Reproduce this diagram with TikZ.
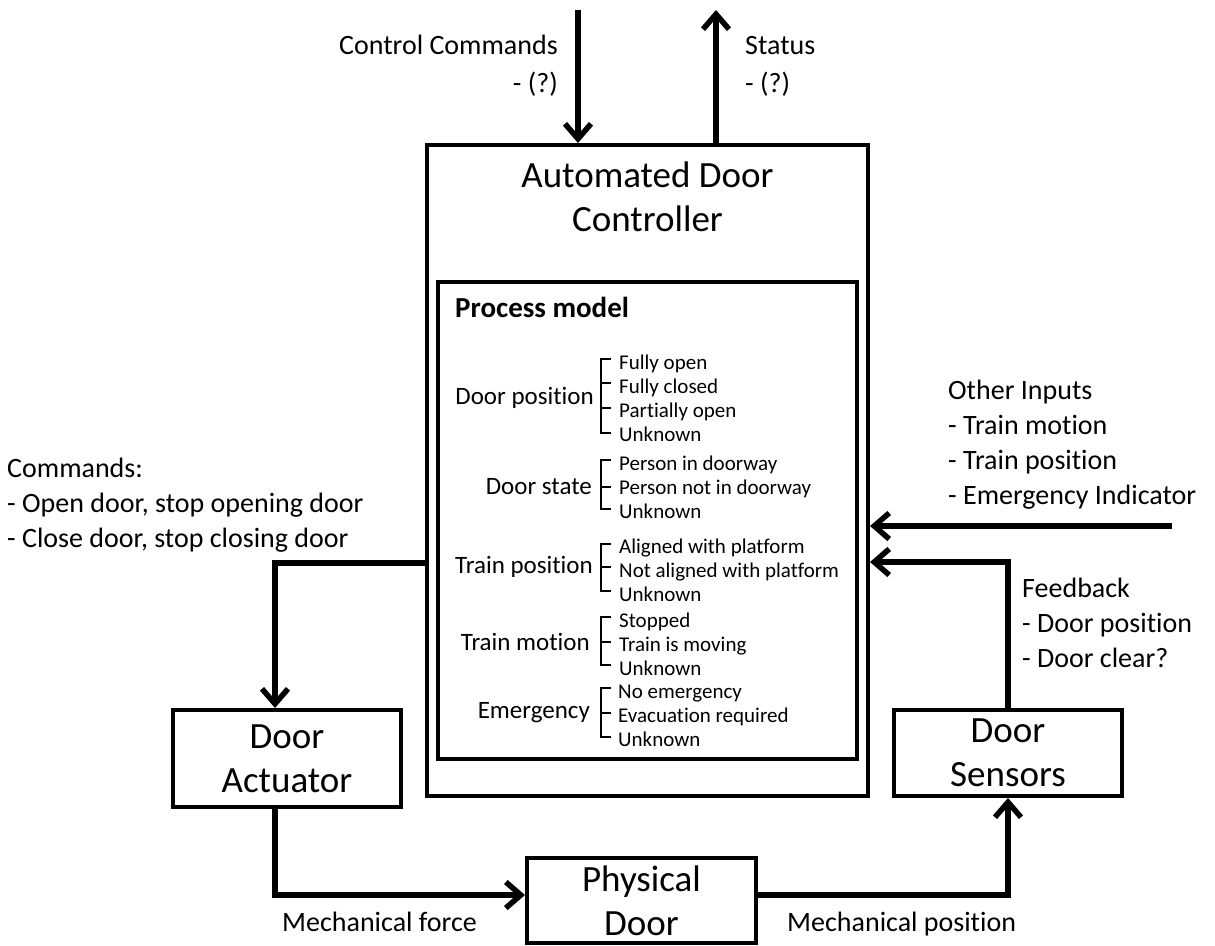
\documentclass[tikz,border=0pt]{standalone}
\usepackage{fontspec}
\setmainfont{Carlito}[Ligatures={NoCommon}]
\usetikzlibrary{arrows.meta}
\begin{document}
\begin{tikzpicture}[x=1pt,y=-1pt,
  box/.style={draw, line width=4pt, rectangle, inner sep=0pt},
  arr/.style={line width=5.5pt, -{Straight Barb[length=15pt,width=26pt]}},
  lbl/.style={font=\fontsize{28}{35}\selectfont, inner sep=0pt, align=left},
  toplbl/.style={font=\fontsize{28}{38}\selectfont, inner sep=0pt},
  big/.style={font=\fontsize{37}{44}\selectfont, align=center},
  pmlabel/.style={font=\fontsize{25}{30}\selectfont, inner sep=0pt, anchor=east},
  pmitems/.style={font=\fontsize{21}{24}\selectfont, inner sep=0pt, anchor=west, align=left},
  brk/.style={line width=1.6pt}]

\fill[white] (0,0) rectangle (1215,945);
\useasboundingbox (0,0) rectangle (1215,945);

% controller
\node[box, minimum width=441pt, minimum height=651pt] (ctrl) at (647.5,470.5) {};
\node[big] (title) at (647.5,197) {Automated Door\\Controller};
\node[box, minimum width=419pt, minimum height=477pt] (pm) at (647.5,520.5) {};
\node[font=\bfseries\fontsize{29}{35}\selectfont, anchor=west, inner sep=0pt] (pmt) at (455,307) {Process model};

% process model groups
\node[pmlabel] (g1) at (594,398) {Door position};
\node[pmitems] (i1) at (619,398.5) {Fully open\\Fully closed\\Partially open\\Unknown};
\draw[brk] (611,359) -- (601,359) -- (601,433) -- (611,433) (601,383) -- (611,383) (601,408) -- (611,408);

\node[pmlabel] (g2) at (592,487) {Door state};
\node[pmitems] (i2) at (619,487.5) {Person in doorway\\Person not in doorway\\Unknown};
\draw[brk] (611,460) -- (601,460) -- (601,509) -- (611,509) (601,487) -- (611,487);

\node[pmlabel] (g3) at (593,567) {Train position};
\node[pmitems] (i3) at (619,570) {Aligned with platform\\Not aligned with platform\\Unknown};
\draw[brk] (611,544) -- (601,544) -- (601,591) -- (611,591) (601,567) -- (611,567);

\node[pmlabel] (g4) at (590,642) {Train motion};
\node[pmitems] (i4) at (619,644) {Stopped\\Train is moving\\Unknown};
\draw[brk] (611,617) -- (601,617) -- (601,665) -- (611,665) (601,642) -- (611,642);

\node[pmlabel] (g5) at (590,713) {Emergency};
\node[pmitems] (i5) at (618,716) {No emergency\\Evacuation required\\Unknown};
\draw[brk] (611,688) -- (601,688) -- (601,737) -- (611,737) (601,713) -- (611,713);

% other boxes
\node[box, big, minimum width=228pt, minimum height=97pt] (act) at (287,758.5) {Door\\Actuator};
\node[box, big, minimum width=228pt, minimum height=86pt] (sens) at (1008,753) {Door\\Sensors};
\node[box, big, minimum width=229pt, minimum height=85pt] (phys) at (641.5,900.5) {Physical\\Door};

% coordinates
\coordinate (cin) at (578,10);
\coordinate (cout) at (716,10);
\coordinate (cmdturn) at (275,563);
\coordinate (forceturn) at (275,895);
\coordinate (posturn) at (1008,895);
\coordinate (fbturn) at (1008,562);
\coordinate (oin) at (1172,526);

% connectors
\draw[arr] (cin) -- (cin |- ctrl.north);
\draw[arr] (cout |- ctrl.north) -- (cout);
\draw[arr] (ctrl.west |- cmdturn) -- (cmdturn) -- (cmdturn |- act.north);
\draw[arr] (act.south -| forceturn) -- (forceturn) -- (forceturn -| phys.west);
\draw[arr] (phys.east |- posturn) -- (posturn) -- (sens.south);
\draw[arr] (sens.north) -- (fbturn) -- (fbturn -| ctrl.east);
\draw[arr] (oin) -- (oin -| ctrl.east);

% labels
\node[toplbl, anchor=east, align=right] (cc) at (558,66) {Control Commands\\- (?)};
\node[toplbl, anchor=west, align=left] (st) at (745,66) {Status\\- (?)};
\node[lbl, anchor=west] (cmds) at (7,505) {Commands:\\- Open door, stop opening door\\- Close door, stop closing door};
\node[lbl, anchor=west] (oth) at (948,444.5) {Other Inputs\\- Train motion\\- Train position\\- Emergency Indicator};
\node[lbl, anchor=west] (fb) at (1022,623) {Feedback\\- Door position\\- Door clear?};
\node[lbl, anchor=base west] (mf) at (282,931) {Mechanical force};
\node[lbl, anchor=base west] (mp) at (787,931) {Mechanical position};
\end{tikzpicture}
\end{document}
